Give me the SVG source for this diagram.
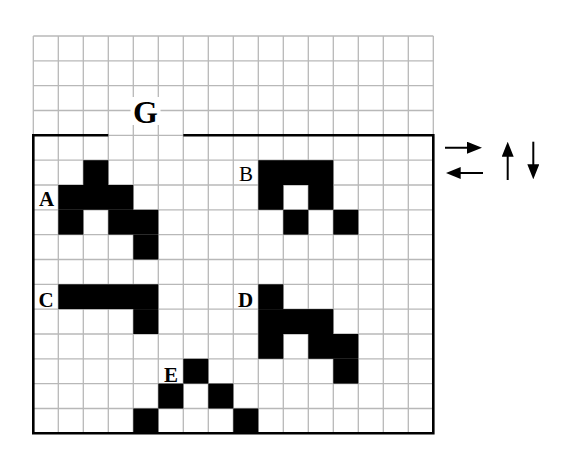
<svg xmlns="http://www.w3.org/2000/svg" width="574" height="471" viewBox="0 0 574 471">
<defs>
<style>
.grid line{stroke:#b8b8b8;stroke-width:1.3}
.cell{fill:#000}
.lbl{font-family:"Liberation Serif","DejaVu Serif",serif;font-weight:bold;font-size:21px;fill:#000;text-anchor:middle}
.arr{stroke:#000;stroke-width:2;fill:none;marker-end:url(#ah)}
</style>
<marker id="ah" markerUnits="userSpaceOnUse" markerWidth="15" markerHeight="12" refX="11" refY="6" orient="auto">
<path d="M0,0 L15,6 L0,12 z" fill="#000"/>
</marker>
</defs>
<rect width="574" height="471" fill="#fff"/>
<g id="grid" class="grid">
<line x1="33.3" y1="36" x2="33.3" y2="433.3"/>
<line x1="58.3" y1="36" x2="58.3" y2="433.3"/>
<line x1="83.3" y1="36" x2="83.3" y2="433.3"/>
<line x1="108.3" y1="36" x2="108.3" y2="433.3"/>
<line x1="133.3" y1="36" x2="133.3" y2="433.3"/>
<line x1="158.3" y1="36" x2="158.3" y2="433.3"/>
<line x1="183.3" y1="36" x2="183.3" y2="433.3"/>
<line x1="208.3" y1="36" x2="208.3" y2="433.3"/>
<line x1="233.3" y1="36" x2="233.3" y2="433.3"/>
<line x1="258.3" y1="36" x2="258.3" y2="433.3"/>
<line x1="283.3" y1="36" x2="283.3" y2="433.3"/>
<line x1="308.3" y1="36" x2="308.3" y2="433.3"/>
<line x1="333.3" y1="36" x2="333.3" y2="433.3"/>
<line x1="358.3" y1="36" x2="358.3" y2="433.3"/>
<line x1="383.3" y1="36" x2="383.3" y2="433.3"/>
<line x1="408.3" y1="36" x2="408.3" y2="433.3"/>
<line x1="433.3" y1="36" x2="433.3" y2="433.3"/>
<line x1="33.3" y1="36" x2="433.3" y2="36"/>
<line x1="33.3" y1="60.8" x2="433.3" y2="60.8"/>
<line x1="33.3" y1="85.7" x2="433.3" y2="85.7"/>
<line x1="33.3" y1="110.5" x2="433.3" y2="110.5"/>
<line x1="33.3" y1="135.3" x2="433.3" y2="135.3"/>
<line x1="33.3" y1="160.2" x2="433.3" y2="160.2"/>
<line x1="33.3" y1="185" x2="433.3" y2="185"/>
<line x1="33.3" y1="209.8" x2="433.3" y2="209.8"/>
<line x1="33.3" y1="234.6" x2="433.3" y2="234.6"/>
<line x1="33.3" y1="259.5" x2="433.3" y2="259.5"/>
<line x1="33.3" y1="284.3" x2="433.3" y2="284.3"/>
<line x1="33.3" y1="309.1" x2="433.3" y2="309.1"/>
<line x1="33.3" y1="334" x2="433.3" y2="334"/>
<line x1="33.3" y1="358.8" x2="433.3" y2="358.8"/>
<line x1="33.3" y1="383.6" x2="433.3" y2="383.6"/>
<line x1="33.3" y1="408.5" x2="433.3" y2="408.5"/>
</g>
<path id="border" d="M108.3,135.3 H33.3 V433.3 H433.3 V135.3 H183.3" fill="none" stroke="#000" stroke-width="2.6"/>
<g id="G">
<rect x="130.5" y="97" width="30" height="28" fill="#fff"/>
<text x="145.5" y="122.5" class="lbl" style="font-size:32px">G</text>
</g>
<g id="A">
<rect class="cell" x="83.3" y="160.2" width="25" height="24.8"/>
<rect class="cell" x="58.3" y="185" width="75" height="24.8"/>
<rect class="cell" x="58.3" y="209.8" width="25" height="24.8"/>
<rect class="cell" x="108.3" y="209.8" width="50" height="24.8"/>
<rect class="cell" x="133.3" y="234.6" width="25" height="24.9"/>
<text x="46.5" y="205.5" class="lbl">A</text>
</g>
<g id="B">
<rect class="cell" x="258.3" y="160.2" width="75" height="24.8"/>
<rect class="cell" x="258.3" y="185" width="25" height="24.8"/>
<rect class="cell" x="308.3" y="185" width="25" height="24.8"/>
<rect class="cell" x="283.3" y="209.8" width="25" height="24.8"/>
<rect class="cell" x="333.3" y="209.8" width="25" height="24.8"/>
<text x="246" y="180.5" class="lbl" style="font-weight:normal">B</text>
</g>
<g id="C">
<rect class="cell" x="58.3" y="284.3" width="100" height="24.8"/>
<rect class="cell" x="133.3" y="309.1" width="25" height="24.9"/>
<text x="46" y="306.5" class="lbl">C</text>
</g>
<g id="D">
<rect class="cell" x="258.3" y="284.3" width="25" height="24.8"/>
<rect class="cell" x="258.3" y="309.1" width="75" height="24.9"/>
<rect class="cell" x="258.3" y="334" width="25" height="24.8"/>
<rect class="cell" x="308.3" y="334" width="50" height="24.8"/>
<rect class="cell" x="333.3" y="358.8" width="25" height="24.8"/>
<text x="245.5" y="306.5" class="lbl">D</text>
</g>
<g id="E">
<rect class="cell" x="183.3" y="358.8" width="25" height="24.8"/>
<rect class="cell" x="158.3" y="383.6" width="25" height="24.9"/>
<rect class="cell" x="208.3" y="383.6" width="25" height="24.9"/>
<rect class="cell" x="133.3" y="408.5" width="25" height="24.8"/>
<rect class="cell" x="233.3" y="408.5" width="25" height="24.8"/>
<text x="171" y="381.5" class="lbl">E</text>
</g>
<g id="connectors">
<line class="arr" x1="445" y1="147.7" x2="478" y2="147.7"/>
<line class="arr" x1="483" y1="173" x2="449.7" y2="173"/>
<line class="arr" x1="507.7" y1="180" x2="507.7" y2="145.7"/>
<line class="arr" x1="533.3" y1="141.7" x2="533.3" y2="175.3"/>
</g>
</svg>
